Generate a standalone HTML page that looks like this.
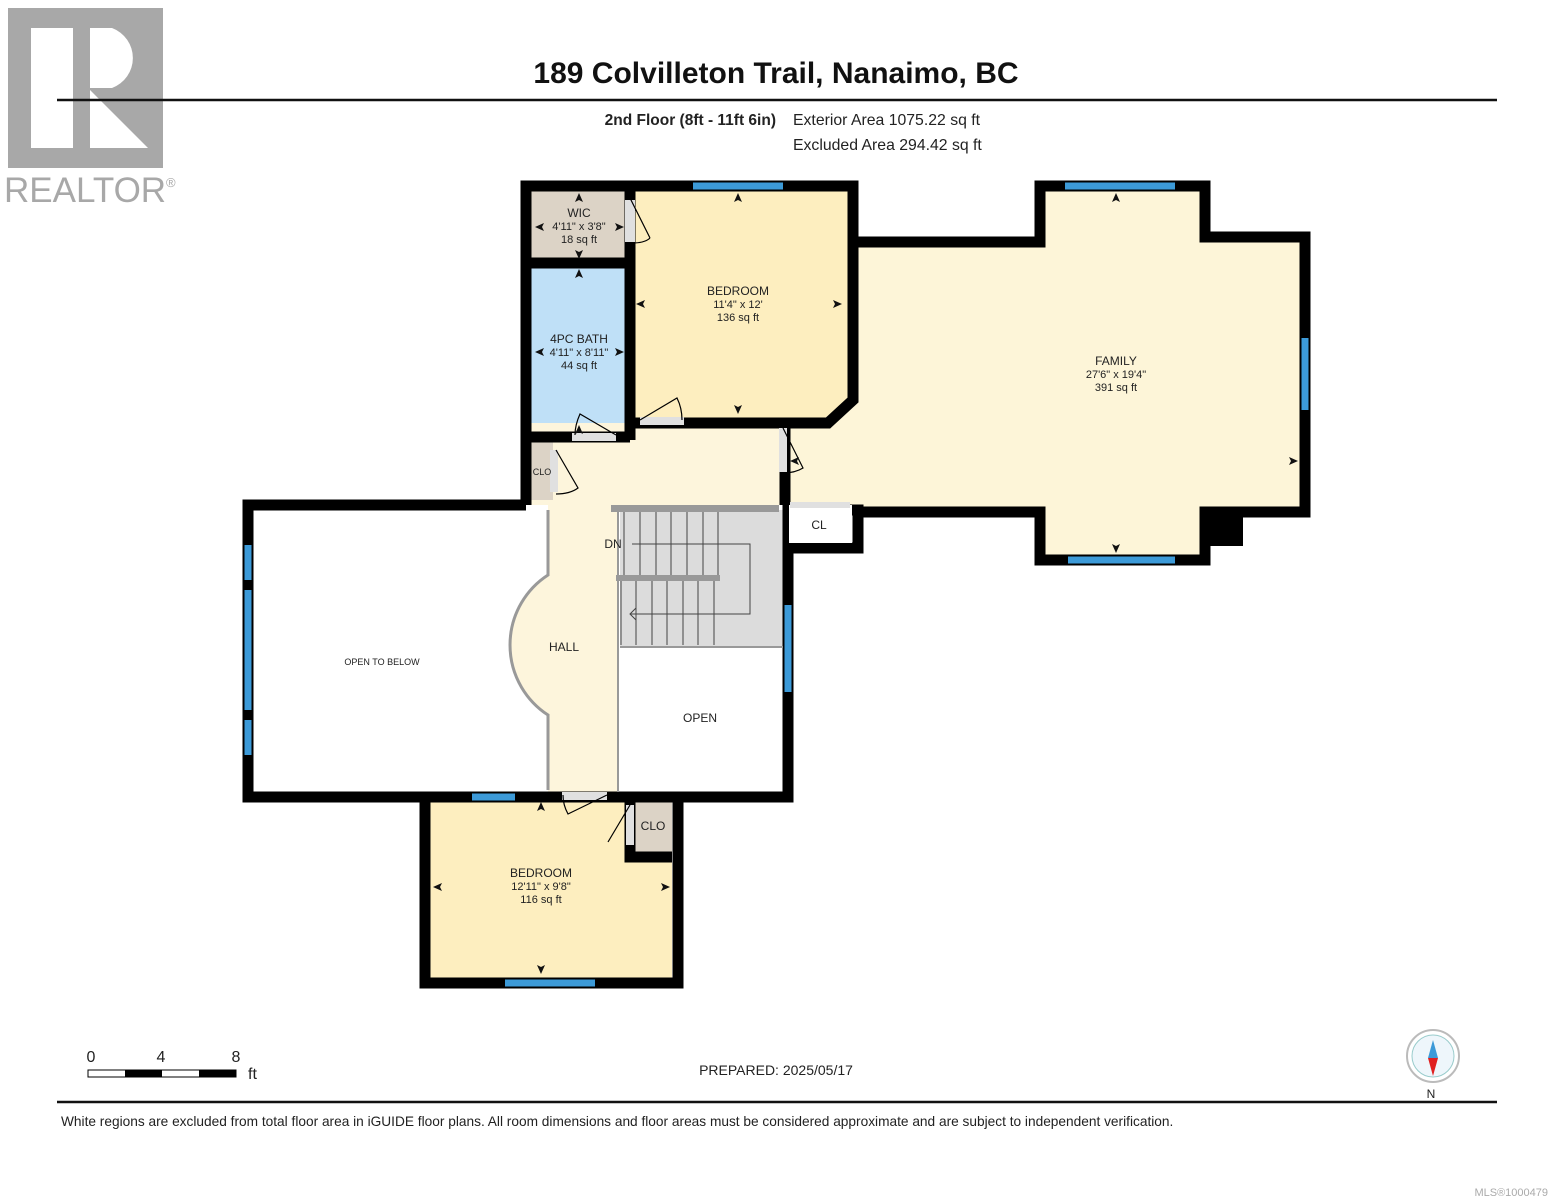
<!DOCTYPE html>
<html><head><meta charset="utf-8"><style>
html,body{margin:0;padding:0;background:#fff;}
svg{display:block;font-family:"Liberation Sans",Arial,sans-serif;}
</style></head><body>
<svg width="1553" height="1200" viewBox="0 0 1553 1200" xmlns="http://www.w3.org/2000/svg">
<defs>
<polygon id="au" points="0,0 -4,9 0,7 4,9" fill="#111"/>
</defs>
<!-- REALTOR logo -->
<rect x="8" y="8" width="155" height="160" fill="#a8a8a8"/>
<rect x="31" y="28" width="42" height="120" fill="#fff"/>
<path d="M90 28 H112 A32 32 0 0 1 112 88 H90 Z" fill="#fff"/>
<path d="M90 90 L148 148 H90 Z" fill="#fff"/>
<text x="4" y="202" font-size="35" fill="#a8a8a8">REALTOR</text>
<text x="166" y="187" font-size="13" fill="#a8a8a8">®</text>

<!-- header -->
<text x="776" y="83" font-size="30" font-weight="bold" text-anchor="middle" fill="#111">189 Colvilleton Trail, Nanaimo, BC</text>
<line x1="57" y1="100" x2="1497" y2="100" stroke="#111" stroke-width="2.5"/>
<text x="776" y="125" font-size="15.5" font-weight="bold" text-anchor="end" fill="#222">2nd Floor (8ft - 11ft 6in)</text>
<text x="793" y="125" font-size="15.8" fill="#222">Exterior Area 1075.22 sq ft</text>
<text x="793" y="150" font-size="15.8" fill="#222">Excluded Area 294.42 sq ft</text>

<!-- fills -->
<rect x="530" y="190" width="100" height="73" fill="#dcd3c6"/>
<rect x="530" y="266" width="98" height="172" fill="#bfe0f7"/>
<polygon points="632,190 848,190 848,400 825,418 632,418" fill="#fdeebf"/>
<polygon points="853,237 1040,237 1040,190 1200,190 1200,237 1305,237 1305,512 1200,512 1200,556 1040,556 1040,512 853,512 785,505 785,423 825,423 853,400" fill="#fdf5d8"/>
<rect x="530" y="423" width="255" height="82" fill="#fdf5dc"/>
<rect x="531" y="442" width="22" height="58" fill="#dcd3c6"/>
<path d="M548 505 V575 A83.5 83.5 0 0 0 548 715 V792 H618 V505 Z" fill="#fdf5dc"/>
<rect x="620" y="510" width="163" height="136" fill="#dcdcdc"/>
<polygon points="430,800 630,800 630,857 672,857 672,978 430,978" fill="#fdeebf"/>
<rect x="632" y="800" width="40" height="57" fill="#dcd3c6"/>

<!-- walls -->
<g stroke="#000" stroke-width="11" fill="none" stroke-linejoin="miter">
<polyline points="526,505 526,186 853,186 853,400 828,423 632,423"/>
<line x1="630" y1="186" x2="630" y2="440"/>
<line x1="526" y1="263" x2="630" y2="263"/>
<line x1="526" y1="437" x2="630" y2="437"/>
<polyline points="853,242 1040,242 1040,186 1205,186 1205,237 1305,237 1305,512 1205,512 1205,560 1040,560 1040,512 853,512"/>
<polyline points="785,423 785,505"/>
<polyline points="526,505 248,505 248,797 788,797 788,505"/>
<polyline points="425,797 425,983 678,983 678,797"/>
<polyline points="630,797 630,857 672,857"/>
<polyline points="785,510 858,510 858,548 790,548"/>
</g>
<rect x="1200" y="512" width="43" height="34" fill="#000"/>
<rect x="789" y="505" width="63" height="38" fill="#fff"/>
<!-- door gaps -->
<rect x="625" y="200" width="10" height="42" fill="#e0e0e0"/>
<rect x="640" y="417" width="44" height="8" fill="#e0e0e0"/>
<rect x="572" y="433" width="44" height="8" fill="#e0e0e0"/>
<rect x="550" y="450" width="8" height="42" fill="#e0e0e0"/>
<rect x="779" y="428" width="8" height="44" fill="#e0e0e0"/>
<rect x="790" y="502" width="60" height="6" fill="#e0e0e0"/>
<rect x="562" y="792" width="45" height="8" fill="#e0e0e0"/>
<rect x="626" y="805" width="8" height="40" fill="#e0e0e0"/>
<g stroke="#000" stroke-width="1.2" fill="none">
<path d="M630 198 L650 238 M650 238 Q645 243 632 243"/>
<path d="M640 420 L677 398 Q682 408 682 420"/>
<path d="M616 435 L580 414 Q575 425 575 435"/>
<path d="M556 450 L578 488 Q570 494 556 494"/>
<path d="M783 428 L803 468 Q795 473 783 473"/>
<path d="M607 795 L568 814 Q563 805 563 795"/>
<path d="M630 805 L608 842"/>
</g>
<!-- windows -->
<g stroke="#3c9ad8" stroke-width="7">
<line x1="693" y1="186" x2="783" y2="186"/>
<line x1="1065" y1="186" x2="1175" y2="186"/>
<line x1="1305" y1="338" x2="1305" y2="410"/>
<line x1="1068" y1="560" x2="1175" y2="560"/>
<line x1="248" y1="545" x2="248" y2="580"/>
<line x1="248" y1="590" x2="248" y2="710"/>
<line x1="248" y1="720" x2="248" y2="755"/>
<line x1="788" y1="605" x2="788" y2="692"/>
<line x1="472" y1="797" x2="515" y2="797"/>
<line x1="505" y1="983" x2="595" y2="983"/>
</g>
<!-- hall arc & stair -->
<path d="M548 510 V575 A83.5 83.5 0 0 0 548 715 V790" stroke="#999" stroke-width="3" fill="none"/>
<line x1="618" y1="505" x2="618" y2="792" stroke="#999" stroke-width="2"/>
<rect x="611" y="505" width="168" height="7" fill="#999"/>
<rect x="616" y="575" width="104" height="6" fill="#999"/>
<line x1="620" y1="647" x2="783" y2="647" stroke="#999" stroke-width="2"/>
<g stroke="#444" stroke-width="1">
<line x1="624" y1="512" x2="624" y2="575"/><line x1="640" y1="512" x2="640" y2="575"/><line x1="656" y1="512" x2="656" y2="575"/><line x1="671" y1="512" x2="671" y2="575"/><line x1="687" y1="512" x2="687" y2="575"/><line x1="703" y1="512" x2="703" y2="575"/><line x1="718" y1="512" x2="718" y2="575"/>
<line x1="621" y1="581" x2="621" y2="645"/><line x1="636" y1="581" x2="636" y2="645"/><line x1="652" y1="581" x2="652" y2="645"/><line x1="667" y1="581" x2="667" y2="645"/><line x1="683" y1="581" x2="683" y2="645"/><line x1="698" y1="581" x2="698" y2="645"/><line x1="714" y1="581" x2="714" y2="645"/>
<polyline points="632,544 750,544 750,614 630,614" fill="none"/>
<polyline points="636,608 630,614 636,620" fill="none"/>
</g>
<rect x="620" y="650" width="160" height="140" fill="#fff"/>

<!-- dimension arrowheads -->
<use href="#au" transform="translate(738,193)"/>
<use href="#au" transform="translate(738,414) rotate(180)"/>
<use href="#au" transform="translate(636,304) rotate(-90)"/>
<use href="#au" transform="translate(842,304) rotate(90)"/>
<use href="#au" transform="translate(579,193)"/>
<use href="#au" transform="translate(579,259) rotate(180)"/>
<use href="#au" transform="translate(535,227) rotate(-90)"/>
<use href="#au" transform="translate(624,227) rotate(90)"/>
<use href="#au" transform="translate(579,269)"/>
<use href="#au" transform="translate(535,352) rotate(-90)"/>
<use href="#au" transform="translate(624,352) rotate(90)"/>
<use href="#au" transform="translate(579,425)"/>
<use href="#au" transform="translate(1116,193)"/>
<use href="#au" transform="translate(1116,553) rotate(180)"/>
<use href="#au" transform="translate(1298,461) rotate(90)"/>
<use href="#au" transform="translate(790,461) rotate(-90)"/>
<use href="#au" transform="translate(541,802)"/>
<use href="#au" transform="translate(541,974) rotate(180)"/>
<use href="#au" transform="translate(433,887) rotate(-90)"/>
<use href="#au" transform="translate(670,887) rotate(90)"/>

<!-- labels -->
<g font-size="11" fill="#222" text-anchor="middle">
<text x="579" y="217" font-size="12">WIC</text><text x="579" y="230">4'11" x 3'8"</text><text x="579" y="243">18 sq ft</text>
<text x="579" y="343" font-size="12">4PC BATH</text><text x="579" y="356">4'11" x 8'11"</text><text x="579" y="369">44 sq ft</text>
<text x="738" y="295" font-size="12">BEDROOM</text><text x="738" y="308">11'4" x 12'</text><text x="738" y="321">136 sq ft</text>
<text x="1116" y="365" font-size="12">FAMILY</text><text x="1116" y="378">27'6" x 19'4"</text><text x="1116" y="391">391 sq ft</text>
<text x="542" y="475" font-size="9">CLO</text>
<text x="819" y="529" font-size="12">CL</text>
<text x="613" y="548" font-size="12">DN</text>
<text x="564" y="651" font-size="12">HALL</text>
<text x="382" y="665" font-size="9">OPEN TO BELOW</text>
<text x="700" y="722" font-size="12">OPEN</text>
<text x="653" y="830" font-size="12">CLO</text>
<text x="541" y="877" font-size="12">BEDROOM</text><text x="541" y="890">12'11" x 9'8"</text><text x="541" y="903">116 sq ft</text>
</g>

<!-- footer -->
<text x="91" y="1062" font-size="16" fill="#222" text-anchor="middle">0</text>
<text x="161" y="1062" font-size="16" fill="#222" text-anchor="middle">4</text>
<text x="236" y="1062" font-size="16" fill="#222" text-anchor="middle">8</text>
<text x="248" y="1079" font-size="16" fill="#222">ft</text>
<rect x="88" y="1070" width="148" height="7" fill="#fff" stroke="#000" stroke-width="1"/>
<rect x="125" y="1070" width="37" height="7" fill="#000"/>
<rect x="199" y="1070" width="37" height="7" fill="#000"/>
<text x="776" y="1075" font-size="14" fill="#222" text-anchor="middle">PREPARED: 2025/05/17</text>
<circle cx="1433" cy="1056" r="26" fill="#fff" stroke="#bbb" stroke-width="2"/>
<circle cx="1433" cy="1056" r="21" fill="#eef6fb" stroke="#9cc" stroke-width="1"/>
<polygon points="1433,1040 1428,1058 1438,1058" fill="#3c9ad8"/>
<polygon points="1428,1058 1438,1058 1433,1076" fill="#e02020"/>
<text x="1431" y="1098" font-size="12" fill="#222" text-anchor="middle">N</text>
<line x1="57" y1="1102" x2="1497" y2="1102" stroke="#111" stroke-width="2.5"/>
<text x="61" y="1126" font-size="13.7" fill="#222">White regions are excluded from total floor area in iGUIDE floor plans. All room dimensions and floor areas must be considered approximate and are subject to independent verification.</text>
<text x="1548" y="1196" font-size="11" fill="#aaa" text-anchor="end">MLS®1000479</text>
</svg>
</body></html>
